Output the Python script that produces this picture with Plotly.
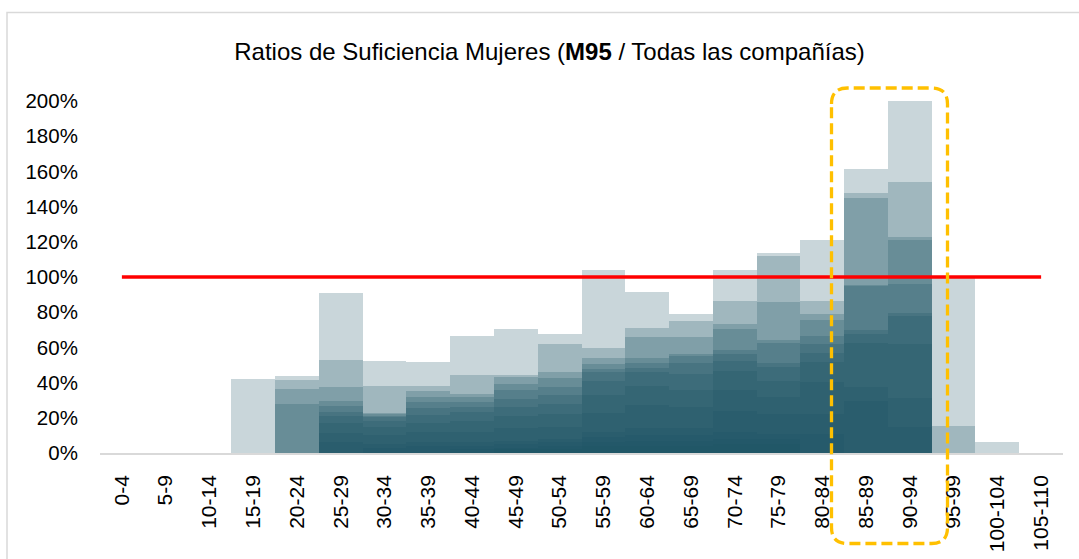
import plotly.graph_objects as go

# ---------------- data ----------------
categories = ["0-4", "5-9", "10-14", "15-19", "20-24", "25-29", "30-34", "35-39",
              "40-44", "45-49", "50-54", "55-59", "60-64", "65-69", "70-74",
              "75-79", "80-84", "85-89", "90-94", "95-99", "100-104", "105-110"]

N = None
# Ratios (%) of each company, one overlaid translucent layer each (sorted high -> low per age band)
layer_1 = [N, N, N, 42, 43.8, 91, 52.3, 51.9, 66.3, 70.5, 67.8, 104, 91.7, 79, 104, 113.4, 121.3, 161.4, 200, 100, 6.1, N]
layer_2 = [N, N, N, N, 41.6, 52.8, 38, 38, 44.3, 44.3, 61.7, 59.6, 71, 75.2, 86.5, 112, 86.5, 147.5, 154.2, 15.3, N, N]
layer_3 = [N, N, N, N, 36.6, 37.3, 22.7, 35.2, 33.3, 43.2, 45.8, 53.9, 66.1, 65.8, 73.3, 86, 79, 144.7, 122.5, N, N, N]
layer_4 = [N, N, N, N, 27.6, 29.5, 22, 32, 32, 39.2, 42.9, 50.8, 54, 56.5, 70.6, 64, 75.6, 95.5, 121, N, N, N]
layer_5 = [N, N, N, N, N, 26.9, 21.3, 28.8, 29.2, 35.8, 37.5, 48, 51.2, 55, 58.5, 62.3, 66.6, 95, 95.8, N, N, N]
layer_6 = [N, N, N, N, N, 23.5, 20.6, 25.4, 26.3, 30.5, 33.2, 46, 48.5, 51, 56.3, 51.2, 62, 69.9, 79.4, N, N, N]
layer_7 = [N, N, N, N, N, 20.8, 18, 21.6, 23.5, 26.3, 27.8, 41, 46, 45, 52.4, 48.6, 56.8, 67.9, 78, N, N, N]
layer_8 = [N, N, N, N, N, 17, 15, 17, 18, 21, 22, 33, 38, 36, 46.5, 40.8, 51.9, 62.3, 61.7, N, N, N]
layer_9 = [N, N, N, N, N, 11.5, 10, 12, 12, 14, 15, 23, 27, 26, 36, 32, 40.3, 37.7, 31, N, N, N]
layer_10 = [N, N, N, N, N, 6, 5, 6, 6, 7, 8, 12, 14, 14, 24, 22, 22.3, 29.6, 15, N, N, N]
layer_11 = [N, N, N, N, N, N, 3, 4, 4, 5, 6, 9, 10, 10, 12, 11, 11, N, N, N, N, N]
layer_12 = [N, N, N, N, N, N, N, N, 2, 3, 4, 6, 7, 7, 8, 8, N, N, N, N, N, N]
layer_13 = [N, N, N, N, N, N, N, N, N, 2, 2, 4, 4, 4, 5, 5, N, N, N, N, N, N]

layers = [layer_1, layer_2, layer_3, layer_4, layer_5, layer_6, layer_7,
          layer_8, layer_9, layer_10, layer_11, layer_12, layer_13]

target = 100  # 100 % sufficiency reference

y_ticks = [0, 20, 40, 60, 80, 100, 120, 140, 160, 180, 200]
y_tick_labels = ["0%", "20%", "40%", "60%", "80%", "100%", "120%", "140%", "160%", "180%", "200%"]

# ---------------- figure ----------------
W, H = 1079, 559
ML, MR, MT, MB = 100, 16, 101, 106
PW, PH = W - ML - MR, H - MT - MB

fig = go.Figure()

for i, lay in enumerate(layers):
    fig.add_trace(go.Bar(
        x=categories, y=lay, width=1.0,
        marker=dict(color="rgba(31,82,100,0.24)", line=dict(width=0)),
        showlegend=False, hoverinfo="x+y", name=f"Cía {i+1}",
    ))

fig.add_trace(go.Scatter(
    x=categories, y=[target] * len(categories), mode="lines",
    line=dict(color="#FF0000", width=3.5), showlegend=False, hoverinfo="skip",
))


def px(xp):
    return (xp - ML) / PW


def py(yp):
    return (H - MB - yp) / PH


# rounded dashed highlight box (pixel geometry converted to paper coords)
x0, x1, y0, y1, r = 831.5, 947.5, 88, 543.5, 16
path = (f"M {px(x0)},{py(y0 + r)} "
        f"Q {px(x0)},{py(y0)} {px(x0 + r)},{py(y0)} "
        f"L {px(x1 - r)},{py(y0)} "
        f"Q {px(x1)},{py(y0)} {px(x1)},{py(y0 + r)} "
        f"L {px(x1)},{py(y1 - r)} "
        f"Q {px(x1)},{py(y1)} {px(x1 - r)},{py(y1)} "
        f"L {px(x0 + r)},{py(y1)} "
        f"Q {px(x0)},{py(y1)} {px(x0)},{py(y1 - r)} Z")

shapes = [
    # chart-area border
    dict(type="rect", xref="paper", yref="paper",
         x0=px(7), x1=px(W + 10), y0=py(12.5), y1=py(H + 10),
         line=dict(color="#D9D9D9", width=1.5), fillcolor="rgba(0,0,0,0)", layer="below"),
    dict(type="path", xref="paper", yref="paper", path=path,
         line=dict(color="#FFC000", width=3.3, dash="11px,5px"),
         fillcolor="rgba(0,0,0,0)", layer="above"),
]

fig.update_layout(
    width=W, height=H, autosize=False,
    margin=dict(l=ML, r=MR, t=MT, b=MB, pad=0, autoexpand=False),
    paper_bgcolor="white", plot_bgcolor="white",
    barmode="overlay", bargap=0,
    font=dict(family="Liberation Sans, Arial, sans-serif", color="#000000", size=20),
    title=dict(
        text="Ratios de Suficiencia Mujeres (<b>M95</b> / Todas las compañías)",
        xref="container", yref="container", x=549.5 / W, y=1 - 52 / H,
        xanchor="center", yanchor="middle",
        font=dict(size=24, color="#000000"),
    ),
    shapes=shapes,
    xaxis=dict(
        type="category", categoryorder="array", categoryarray=categories,
        range=[-0.5, len(categories) - 0.5], automargin=False,
        showline=True, linecolor="#D9D9D9", linewidth=1.5,
        showgrid=False, zeroline=False,
        ticks="outside", ticklen=12, tickcolor="rgba(0,0,0,0)",
        tickangle=-90, tickfont=dict(size=21),
    ),
    yaxis=dict(
        range=[0, 200], tickvals=y_ticks, ticktext=y_tick_labels, automargin=False,
        showline=False, showgrid=False, zeroline=False,
        ticks="outside", ticklen=17, tickcolor="rgba(0,0,0,0)",
        tickfont=dict(size=20.5),
    ),
)

fig.write_html("out.html", config={"displayModeBar": False},
               post_script="document.body.style.margin='0';document.body.style.overflow='hidden';")
